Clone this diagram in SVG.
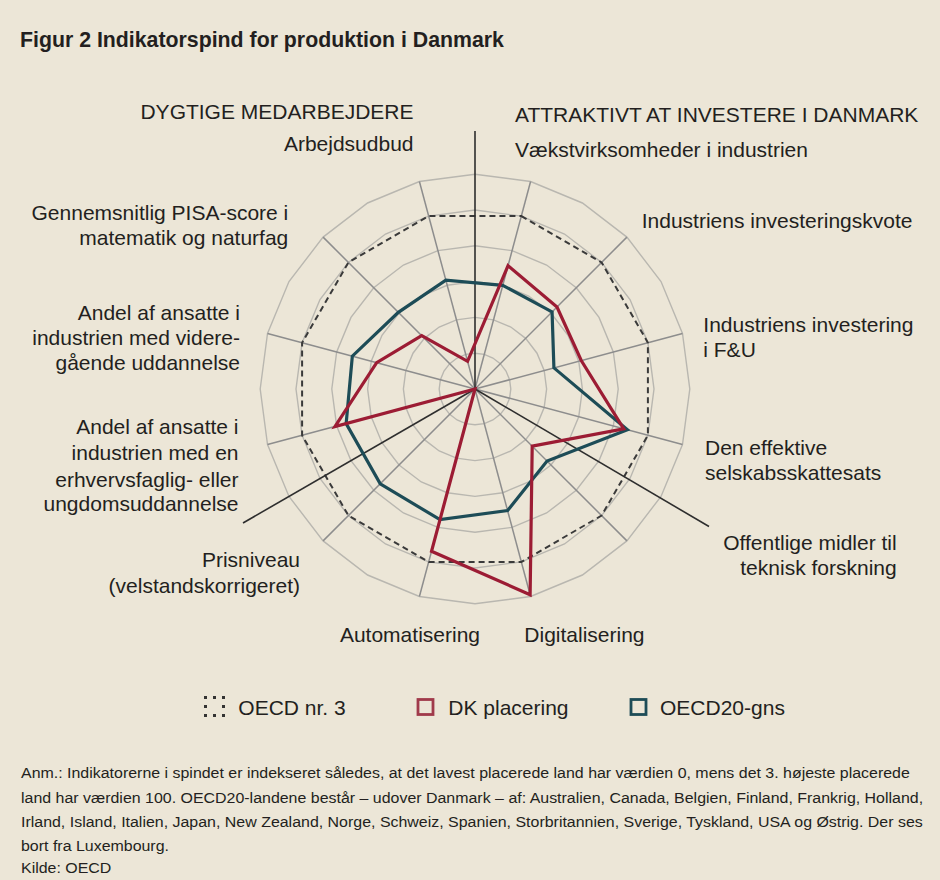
<svg xmlns="http://www.w3.org/2000/svg" width="940" height="880" viewBox="0 0 940 880">
<style>
text{font-family:"Liberation Sans",Arial,sans-serif;fill:#231f20}
.lbl{font-size:21px}
.title{font-size:21.3px;font-weight:bold}
.note{font-size:14.5px}
.ring{fill:none;stroke:#b9b7b0;stroke-width:1.4}
.spoke{stroke:#8d8d8d;stroke-width:1.5}
.div{stroke:#2e2e2e;stroke-width:1.6}
.oecd3{fill:none;stroke:#3a3a3a;stroke-width:2;stroke-dasharray:6 4}
.dk{fill:none;stroke:#9c1c34;stroke-width:3.2;stroke-linejoin:miter}
.avg{fill:none;stroke:#1d4c57;stroke-width:3.2;stroke-linejoin:miter}
.end{text-anchor:end}
</style>
<rect width="940" height="880" fill="#ece6d7"/>
<text class="title" x="20" y="46.5">Figur 2 Indikatorspind for produktion i Danmark</text>

<g id="grid" transform="translate(475 389)">
<polygon class="ring" points="0,-35.8 9.27,-34.58 17.9,-31 25.31,-25.31 31,-17.9 34.58,-9.27 35.8,0 34.58,9.27 31,17.9 25.31,25.31 17.9,31 9.27,34.58 0,35.8 -9.27,34.58 -17.9,31 -25.31,25.31 -31,17.9 -34.58,9.27 -35.8,0 -34.58,-9.27 -31,-17.9 -25.31,-25.31 -17.9,-31 -9.27,-34.58"/>
<polygon class="ring" points="0,-71.6 18.53,-69.16 35.8,-62.01 50.63,-50.63 62.01,-35.8 69.16,-18.53 71.6,0 69.16,18.53 62.01,35.8 50.63,50.63 35.8,62.01 18.53,69.16 0,71.6 -18.53,69.16 -35.8,62.01 -50.63,50.63 -62.01,35.8 -69.16,18.53 -71.6,0 -69.16,-18.53 -62.01,-35.8 -50.63,-50.63 -35.8,-62.01 -18.53,-69.16"/>
<polygon class="ring" points="0,-107.4 27.8,-103.74 53.7,-93.01 75.94,-75.94 93.01,-53.7 103.74,-27.8 107.4,0 103.74,27.8 93.01,53.7 75.94,75.94 53.7,93.01 27.8,103.74 0,107.4 -27.8,103.74 -53.7,93.01 -75.94,75.94 -93.01,53.7 -103.74,27.8 -107.4,0 -103.74,-27.8 -93.01,-53.7 -75.94,-75.94 -53.7,-93.01 -27.8,-103.74"/>
<polygon class="ring" points="0,-143.2 37.06,-138.32 71.6,-124.01 101.26,-101.26 124.01,-71.6 138.32,-37.06 143.2,0 138.32,37.06 124.01,71.6 101.26,101.26 71.6,124.01 37.06,138.32 0,143.2 -37.06,138.32 -71.6,124.01 -101.26,101.26 -124.01,71.6 -138.32,37.06 -143.2,0 -138.32,-37.06 -124.01,-71.6 -101.26,-101.26 -71.6,-124.01 -37.06,-138.32"/>
<polygon class="ring" points="0,-179 46.33,-172.9 89.5,-155.01 126.57,-126.57 155.01,-89.5 172.9,-46.33 179,0 172.9,46.33 155.01,89.5 126.57,126.57 89.5,155.01 46.33,172.9 0,179 -46.33,172.9 -89.5,155.01 -126.57,126.57 -155.01,89.5 -172.9,46.33 -179,0 -172.9,-46.33 -155.01,-89.5 -126.57,-126.57 -89.5,-155.01 -46.33,-172.9"/>
<polygon class="ring" points="0,-214.8 55.59,-207.48 107.4,-186.02 151.89,-151.89 186.02,-107.4 207.48,-55.59 214.8,0 207.48,55.59 186.02,107.4 151.89,151.89 107.4,186.02 55.59,207.48 0,214.8 -55.59,207.48 -107.4,186.02 -151.89,151.89 -186.02,107.4 -207.48,55.59 -214.8,0 -207.48,-55.59 -186.02,-107.4 -151.89,-151.89 -107.4,-186.02 -55.59,-207.48"/>
<line class="spoke" x1="0" y1="0" x2="55.59" y2="-207.48"/>
<line class="spoke" x1="0" y1="0" x2="151.89" y2="-151.89"/>
<line class="spoke" x1="0" y1="0" x2="207.48" y2="-55.59"/>
<line class="spoke" x1="0" y1="0" x2="207.48" y2="55.59"/>
<line class="spoke" x1="0" y1="0" x2="151.89" y2="151.89"/>
<line class="spoke" x1="0" y1="0" x2="55.59" y2="207.48"/>
<line class="spoke" x1="0" y1="0" x2="-55.59" y2="207.48"/>
<line class="spoke" x1="0" y1="0" x2="-151.89" y2="151.89"/>
<line class="spoke" x1="0" y1="0" x2="-207.48" y2="55.59"/>
<line class="spoke" x1="0" y1="0" x2="-207.48" y2="-55.59"/>
<line class="spoke" x1="0" y1="0" x2="-151.89" y2="-151.89"/>
<line class="spoke" x1="0" y1="0" x2="-55.59" y2="-207.48"/>
<polygon id="oecd3" class="oecd3" points="46.33,-172.9 126.57,-126.57 172.9,-46.33 172.9,46.33 126.57,126.57 46.33,172.9 -46.33,172.9 -126.57,126.57 -172.9,46.33 -172.9,-46.33 -126.57,-126.57 -46.33,-172.9"/>
</g>

<g id="connectors" transform="translate(475 389)">
<line class="div" x1="0" y1="0" x2="0" y2="-258"/>
<line class="div" x1="0" y1="0" x2="234" y2="137.5"/>
<line class="div" x1="0" y1="0" x2="-232" y2="134"/>
</g>

<g id="series" transform="translate(475 389)">
<polygon id="oecd20" class="avg" points="27.77,-103.64 77.07,-77.07 78.91,-21.14 152.42,40.84 72.05,72.05 32.58,121.61 -35.02,130.69 -94.75,94.75 -128.85,34.53 -122.67,-32.87 -76.65,-76.65 -29.17,-108.86"/>
<polygon id="dk" class="dk" points="33.05,-123.35 82,-82 106.25,-28.47 148.75,39.86 57.2,57.2 55.13,205.74 -43.48,162.27 0,0 -140.06,37.53 -98.33,-26.35 -53.32,-53.32 -7.43,-27.72"/>
</g>

<g id="sec-dygtige"><text class="lbl end" x="413.5" y="119">DYGTIGE MEDARBEJDERE</text></g>
<g id="sec-attraktivt"><text class="lbl" x="515" y="122.3">ATTRAKTIVT AT INVESTERE I DANMARK</text></g>
<g id="ax-arbejdsudbud"><text class="lbl end" x="413.5" y="151">Arbejdsudbud</text></g>
<g id="ax-vaekst"><text class="lbl" x="515" y="156.7">Vækstvirksomheder i industrien</text></g>
<g id="ax-invkvote"><text class="lbl" x="641.7" y="228.3">Industriens investeringskvote</text></g>
<g id="ax-fou"><text class="lbl" x="703.3" y="331.7">Industriens investering</text><text class="lbl" x="703.3" y="357.3">i F&amp;U</text></g>
<g id="ax-skat"><text class="lbl" x="705" y="455">Den effektive</text><text class="lbl" x="705" y="480">selskabsskattesats</text></g>
<g id="ax-forskning"><text class="lbl end" x="896.7" y="550">Offentlige midler til</text><text class="lbl end" x="896.7" y="575">teknisk forskning</text></g>
<g id="ax-digital"><text class="lbl" x="524.3" y="641.7">Digitalisering</text></g>
<g id="ax-automat"><text class="lbl end" x="480" y="641.7">Automatisering</text></g>
<g id="ax-pris"><text class="lbl end" x="300" y="566.7">Prisniveau</text><text class="lbl end" x="300" y="593.3">(velstandskorrigeret)</text></g>
<g id="ax-erhverv"><text class="lbl end" x="238.5" y="434.3">Andel af ansatte i</text><text class="lbl end" x="238.5" y="460">industrien med en</text><text class="lbl end" x="238.5" y="486.7">erhvervsfaglig- eller</text><text class="lbl end" x="238.5" y="511">ungdomsuddannelse</text></g>
<g id="ax-videre"><text class="lbl end" x="240" y="320">Andel af ansatte i</text><text class="lbl end" x="240" y="344.5">industrien med videre-</text><text class="lbl end" x="240" y="370">gående uddannelse</text></g>
<g id="ax-pisa"><text class="lbl end" x="288.3" y="220">Gennemsnitlig PISA-score i</text><text class="lbl end" x="288.3" y="245">matematik og naturfag</text></g>

<g id="legend">
<g fill="#333">
<rect x="204" y="696" width="3" height="3"/><rect x="213" y="696" width="3" height="3"/><rect x="222" y="696" width="3" height="3"/>
<rect x="204" y="705" width="3" height="3"/><rect x="222" y="705" width="3" height="3"/>
<rect x="204" y="714" width="3" height="3"/><rect x="213" y="714" width="3" height="3"/><rect x="222" y="714" width="3" height="3"/>
</g>
<text class="lbl" x="238.3" y="715">OECD nr. 3</text>
<rect x="418" y="699.5" width="15" height="15" fill="none" stroke="#a03a4b" stroke-width="2.8"/>
<text class="lbl" x="448.3" y="715">DK placering</text>
<rect x="631" y="699.5" width="15" height="15" fill="none" stroke="#1d4c57" stroke-width="2.8"/>
<text class="lbl" x="660" y="715">OECD20-gns</text>
</g>

<g id="notes" transform="scale(1.1 1)">
<text class="note" x="19.1" y="778.3">Anm.: Indikatorerne i spindet er indekseret således, at det lavest placerede land har værdien 0, mens det 3. højeste placerede</text>
<text class="note" x="19.1" y="803">land har værdien 100. OECD20-landene består – udover Danmark – af: Australien, Canada, Belgien, Finland, Frankrig, Holland,</text>
<text class="note" x="19.1" y="827.5">Irland, Island, Italien, Japan, New Zealand, Norge, Schweiz, Spanien, Storbritannien, Sverige, Tyskland, USA og Østrig. Der ses</text>
<text class="note" x="19.1" y="851.5">bort fra Luxembourg.</text>
<text class="note" x="19.1" y="873.3">Kilde: OECD</text>
</g>
</svg>
